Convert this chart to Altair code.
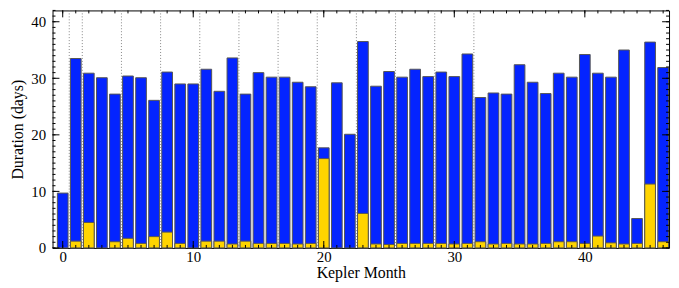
import altair as alt
import pandas as pd

# ---- data ----
months = list(range(47))
total_days = [9.7, 33.5, 30.9, 30.1, 27.2, 30.4, 30.1, 26.1, 31.1, 29.0,
              29.0, 31.6, 27.7, 33.6, 27.2, 31.0, 30.2, 30.2, 29.3, 28.5,
              17.7, 29.2, 20.1, 36.5, 28.6, 31.2, 30.2, 31.6, 30.3, 31.1,
              30.3, 34.3, 26.6, 27.4, 27.2, 32.4, 29.3, 27.3, 30.9, 30.2,
              34.2, 30.9, 30.2, 35.0, 5.2, 36.4, 31.9]
yellow_days = [0, 1.2, 4.5, 0, 1.1, 1.7, 0.8, 2.0, 2.8, 0.8,
               0, 1.2, 1.2, 0.7, 1.2, 0.8, 0.8, 0.8, 0.7, 0.8,
               15.8, 0, 0, 6.1, 0.7, 0.6, 0.8, 0.8, 0.8, 0.8,
               0.7, 0.8, 1.1, 0.7, 0.8, 0.7, 0.7, 0.8, 1.1, 1.1,
               0.8, 2.1, 0.9, 0.7, 0.8, 11.3, 1.1]
quarter_bounds = [0.5, 1.5, 4.5, 7.5, 10.5, 13.5, 16.5, 19.5, 22.5, 25.5, 28.5, 31.5]
x_tick_labels = [0, 10, 20, 30, 40]
y_tick_labels = [0, 10, 20, 30, 40]
x_minor = list(range(47))
y_minor = list(range(43))

# ---- layout ----
W, H = 623, 240
FONT = "Liberation Serif, Times New Roman, DejaVu Serif, serif"
XDOM = [-0.78, 46.45]
YDOM = [0, 42]
HALF = 0.41

df = pd.DataFrame({"month": months, "total": total_days, "yellow": yellow_days})
xs = alt.Scale(domain=XDOM, nice=False, zero=False)
ys = alt.Scale(domain=YDOM, nice=False)

blue = alt.Chart(df).transform_calculate(
    x0=f"datum.month - {HALF}", x1=f"datum.month + {HALF}", base="0"
).mark_bar(color="#0424ff", stroke="#555555", strokeWidth=1).encode(
    x=alt.X("x0:Q", scale=xs, title="Kepler Month",
            axis=alt.Axis(values=x_tick_labels, ticks=False, domain=False, grid=False,
                          labelPadding=2, format="d",
                          labelFont=FONT, titleFont=FONT,
                          titleBaseline="alphabetic", titleY=30, titleX=W / 2)),
    x2="x1:Q",
    y=alt.Y("total:Q", scale=ys, title="Duration (days)",
            axis=alt.Axis(values=y_tick_labels, ticks=False, domain=False, grid=False,
                          labelPadding=7, format="d",
                          labelFont=FONT, titleFont=FONT,
                          titleBaseline="alphabetic", titleX=-30, titleY=H / 2)),
    y2="base:Q",
)

dotted = alt.Chart(pd.DataFrame({"q": quarter_bounds})).mark_rule(
    color="#888888", strokeDash=[1, 2], strokeWidth=1
).encode(x=alt.X("q:Q", scale=xs))

yellow = alt.Chart(df).transform_filter("datum.yellow > 0").transform_calculate(
    x0=f"datum.month - {HALF}", x1=f"datum.month + {HALF}", base="0"
).mark_bar(color="#ffd400", stroke="#555555", strokeWidth=1).encode(
    x=alt.X("x0:Q", scale=xs),
    x2="x1:Q",
    y=alt.Y("yellow:Q", scale=ys),
    y2="base:Q",
)

def xticks(vals, length):
    d = alt.Chart(pd.DataFrame({"t": vals}))
    b = d.mark_rule(color="black", strokeWidth=1).encode(
        x=alt.X("t:Q", scale=xs), y=alt.value(H), y2=alt.value(H - length))
    t = d.mark_rule(color="black", strokeWidth=1).encode(
        x=alt.X("t:Q", scale=xs), y=alt.value(0), y2=alt.value(length))
    return [b, t]

def yticks(vals, length):
    d = alt.Chart(pd.DataFrame({"t": vals}))
    l = d.mark_rule(color="black", strokeWidth=1).encode(
        y=alt.Y("t:Q", scale=ys), x=alt.value(0), x2=alt.value(length))
    r = d.mark_rule(color="black", strokeWidth=1).encode(
        y=alt.Y("t:Q", scale=ys), x=alt.value(W), x2=alt.value(W - length))
    return [l, r]

ticks = xticks(x_minor, 3) + xticks(x_tick_labels, 7) + yticks(y_minor, 3) + yticks(y_tick_labels, 7)

chart = alt.layer(blue, dotted, yellow, *ticks).properties(
    width=W, height=H,
    background="white",
    autosize=alt.AutoSizeParams(type="none"),
    padding={"left": 45, "top": 1, "right": 2, "bottom": 36},
).configure(font=FONT).configure_view(stroke="black", strokeWidth=1).configure_axis(
    labelFont=FONT, titleFont=FONT, labelFontSize=15, titleFontSize=16,
    labelColor="black", titleColor="black", titleFontWeight="normal",
)

chart.save("out.html", embed_options={"renderer": "svg", "actions": False})
